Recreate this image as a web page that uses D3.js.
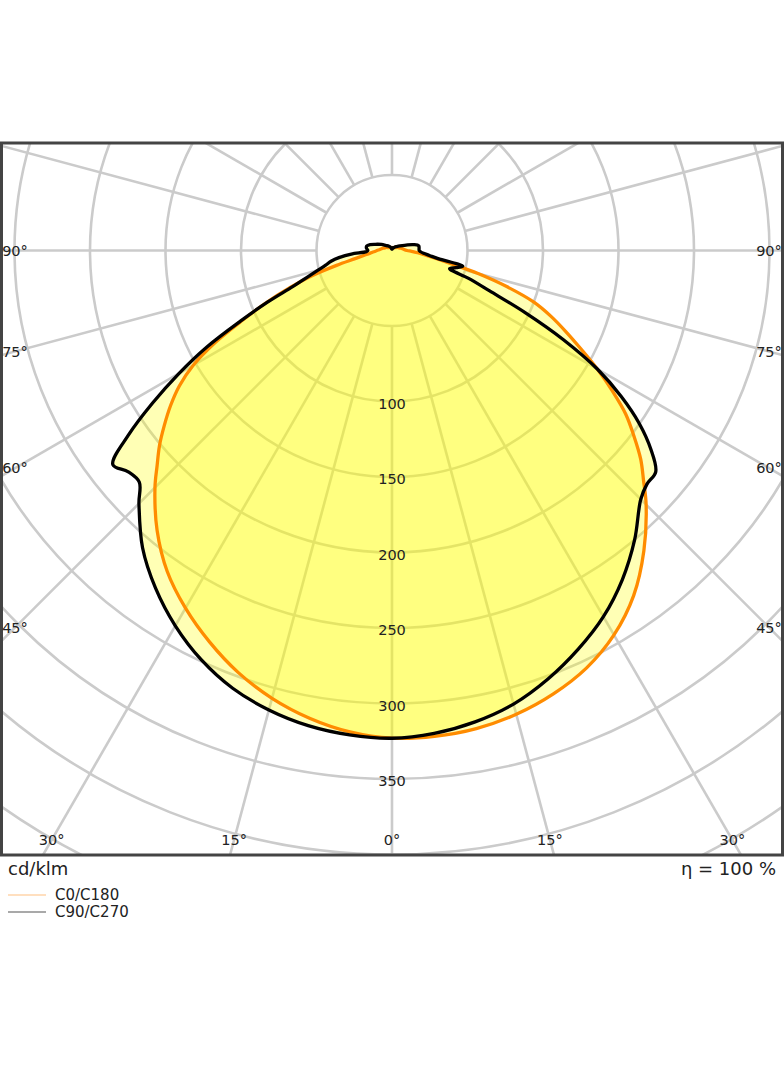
<!DOCTYPE html>
<meta charset="utf-8">
<script src="https://cdn.jsdelivr.net/npm/d3@7"></script>
<style>
  body { margin: 0; background: #fff; }
  text { font-family: "DejaVu Sans", sans-serif; fill: #222; }
</style>
<div id="my_dataviz"></div>
<script>

// gamma angles, degrees measured from straight down
var gamma = [0, 5, 10, 15, 20, 25, 30, 35, 40, 45, 47.5, 50, 52.5, 55, 57.5, 60, 62.5, 65, 67.5, 70,
             72.5, 75, 77.5, 80, 82.5, 85, 87.5, 90, 95, 100, 105, 110, 120, 130, 140, 150, 160, 170, 180];

// intensities in cd/klm for the four half planes
var c0   = [323, 323, 321.5, 318, 312.5, 305, 294, 279, 259.5, 238, 226, 215, 202, 189, 173, 157, 141, 127, 114, 100,
            80, 59, 40, 29, 22, 17, 13, 10, 8, 7, 6, 5, 4, 3, 3, 2, 2, 2, 2];
var c180 = [323, 320, 314.5, 307, 297.5, 286, 273.5, 259.5, 242, 222, 211, 201, 190, 179, 167, 152, 132, 109, 90, 72,
            56, 38, 25, 19, 15, 13, 11, 10, 8, 7, 6, 5, 4, 3, 3, 2, 2, 2, 2];
var c90  = [323, 321, 317, 311, 302, 291.5, 280, 266, 250, 233, 229, 228, 216, 200, 180, 157, 128, 97, 70, 54,
            40, 44, 48, 31, 25, 21, 19, 18, 18, 18, 15, 11, 6, 4, 3, 2, 2, 1, 1];
var c270 = [323, 322, 319.5, 315, 308.5, 299, 287, 273, 257, 237, 227, 228, 233, 213, 188, 163, 138, 111, 89, 70,
            59, 51, 45, 41, 35, 27, 17, 16, 17, 17, 15, 12, 8, 5, 4, 3, 2, 1, 1];

var ringValues = [50, 100, 150, 200, 250, 300, 350, 400, 450, 500, 550];
var ringLabels = [100, 150, 200, 250, 300, 350];
var angleLabels = [90, 75, 60, 45, 30, 15, 0];

var width = 784, height = 1066;
var cx = 392, cy = 250.5;
var frame = { x: 1.5, y: 143, w: 781, h: 712 };

var svg = d3.select("#my_dataviz")
    .append("svg")
    .attr("width", width)
    .attr("height", height);

var r = d3.scaleLinear().domain([0, 50]).range([0, 75.5]);

svg.append("clipPath").attr("id", "clip")
    .append("rect")
    .attr("x", frame.x).attr("y", frame.y)
    .attr("width", frame.w).attr("height", frame.h);

var plot = svg.append("g").attr("clip-path", "url(#clip)");
var g = plot.append("g").attr("transform", "translate(" + cx + "," + cy + ")");

// grid circles
g.selectAll(".ring")
    .data(ringValues)
    .enter().append("circle")
    .attr("r", function (d) { return r(d); })
    .attr("fill", "none")
    .attr("stroke", "#cbcbcb")
    .attr("stroke-width", 2.6);

// radial lines every 15 degrees starting at the inner ring
g.selectAll(".spoke")
    .data(d3.range(0, 360, 15))
    .enter().append("line")
    .each(function (d) {
        var a = d * Math.PI / 180;
        var p0 = d3.pointRadial(a, r(50)), p1 = d3.pointRadial(a, r(700));
        d3.select(this).attr("x1", p0[0]).attr("y1", p0[1]).attr("x2", p1[0]).attr("y2", p1[1]);
    })
    .attr("stroke", "#cbcbcb")
    .attr("stroke-width", 2.6);

// build a closed outline: right half plane then left half plane
function plane(right, left) {
    var pts = [];
    gamma.forEach(function (gm, i) { pts.push([Math.PI - gm * Math.PI / 180, right[i]]); });
    for (var i = gamma.length - 2; i >= 1; i--) {
        pts.push([Math.PI + gamma[i] * Math.PI / 180, left[i]]);
    }
    return pts;
}

var radial = d3.lineRadial()
    .angle(function (d) { return d[0]; })
    .radius(function (d) { return r(d[1]); })
    .curve(d3.curveCatmullRomClosed.alpha(0.5));

var planes = [
    { pts: plane(c0, c180), color: "#ff8c00" },
    { pts: plane(c90, c270), color: "#000000" }
];

g.selectAll(".fill")
    .data(planes)
    .enter().append("path")
    .attr("d", function (d) { return radial(d.pts); })
    .attr("fill", "#ffff00")
    .attr("fill-opacity", 0.29)
    .attr("stroke", "none");

g.selectAll(".curve")
    .data(planes)
    .enter().append("path")
    .attr("d", function (d) { return radial(d.pts); })
    .attr("fill", "none")
    .attr("stroke", function (d) { return d.color; })
    .attr("stroke-width", 3.3)
    .attr("stroke-linejoin", "round");

// intensity labels on the 0 degree line
g.selectAll(".rlabel")
    .data(ringLabels)
    .enter().append("text")
    .attr("x", 0)
    .attr("y", function (d) { return r(d) + 2; })
    .attr("text-anchor", "middle")
    .attr("dominant-baseline", "central")
    .style("font-size", "14.5px")
    .text(function (d) { return d; });

// frame
svg.append("rect")
    .attr("x", frame.x).attr("y", frame.y)
    .attr("width", frame.w).attr("height", frame.h)
    .attr("fill", "none")
    .attr("stroke", "#444")
    .attr("stroke-width", 3);

// angle labels where the spokes meet the frame
var inLeft = 15, inRight = 769, inBottom = 840;
function anglePos(deg, side) {
    var a = deg * Math.PI / 180, sx = Math.sin(a), cy2 = Math.cos(a);
    var t = Infinity;
    if (sx > 1e-6) t = Math.min(t, (side < 0 ? cx - inLeft : inRight - cx) / sx);
    if (cy2 > 1e-6) t = Math.min(t, (inBottom - cy) / cy2);
    return [cx + side * sx * t, cy + cy2 * t];
}
var angleData = [];
angleLabels.forEach(function (d) {
    angleData.push({ deg: d, pos: anglePos(d, -1) });
    if (d > 0) angleData.push({ deg: d, pos: anglePos(d, 1) });
});
svg.selectAll(".alabel")
    .data(angleData)
    .enter().append("text")
    .attr("x", function (d) { return d.pos[0]; })
    .attr("y", function (d) { return d.pos[1]; })
    .attr("text-anchor", "middle")
    .attr("dominant-baseline", "central")
    .style("font-size", "14.5px")
    .text(function (d) { return d.deg + "°"; });

// unit and efficiency
svg.append("text").attr("x", 8).attr("y", 868)
    .attr("dominant-baseline", "central")
    .style("font-size", "18px")
    .text("cd/klm");
svg.append("text").attr("x", 776).attr("y", 868)
    .attr("text-anchor", "end")
    .attr("dominant-baseline", "central")
    .style("font-size", "18px")
    .text("η = 100 %");

// legend
var legend = [
    { name: "C0/C180", color: "#ffbf80" },
    { name: "C90/C270", color: "#555555" }
];
var lg = svg.selectAll(".legend")
    .data(legend)
    .enter().append("g")
    .attr("transform", function (d, i) { return "translate(0," + (895 + i * 17) + ")"; });
lg.append("line")
    .attr("x1", 8).attr("x2", 46)
    .attr("stroke", function (d) { return d.color; })
    .attr("stroke-width", 1.2);
lg.append("text")
    .attr("x", 55)
    .attr("dominant-baseline", "central")
    .style("font-size", "15px")
    .text(function (d) { return d.name; });

</script>
